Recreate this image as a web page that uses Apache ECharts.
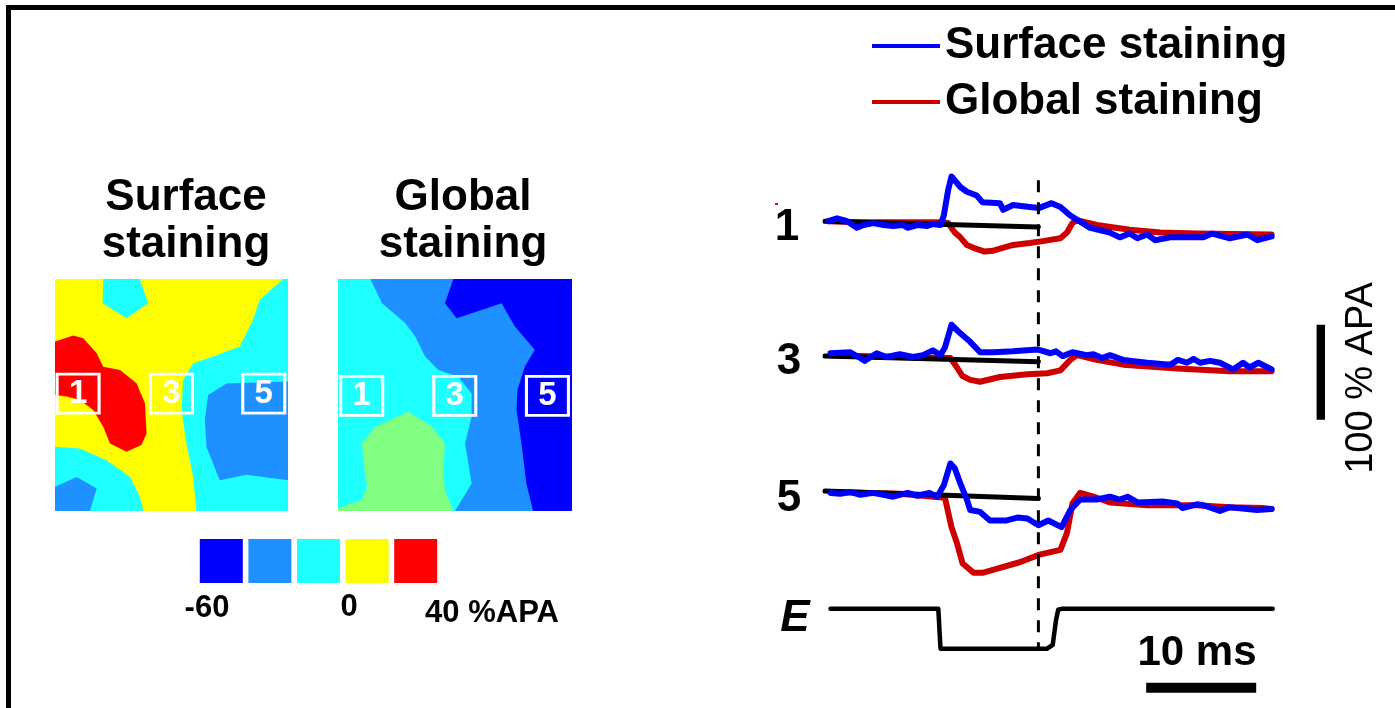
<!DOCTYPE html>
<html>
<head>
<meta charset="utf-8">
<script src="https://cdn.jsdelivr.net/npm/echarts@6/dist/echarts.min.js"></script>
<style>
html, body { margin: 0; padding: 0; background: #fff; }
#chart { width: 1395px; height: 708px; }
</style>
</head>
<body>
<div id="chart"></div>
<script>
// ---- data ----
// traces: [time (ms), %APA relative to own baseline]
const surface1 = [[0.3,0],[1.1,3],[2.0,0],[2.9,-7],[3.5,-4],[4.4,-2],[5.3,-4],[6.2,-5],[7.1,-4],[7.5,-7],[8.4,-4],[9.3,-5],[9.8,-3],[10.5,-4],[10.8,6],[11.2,33],[11.5,47],[12.3,36],[12.9,31],[13.8,27],[14.3,20],[15.9,19],[16.2,12],[17.1,17],[18.6,15],[19.5,14],[20.6,19],[21.4,15],[22.3,6],[24.1,-7],[25.9,-12],[26.8,-17],[27.7,-13],[28.4,-18],[29.3,-14],[30.0,-20],[31.4,-17],[34.4,-17],[35.2,-13],[36.8,-18],[38.4,-14],[39.3,-20],[40.6,-16]];
const global1 = [[0.3,0],[3.2,-1],[6.8,-1],[10.5,-1],[11.2,-2],[11.8,-12],[12.3,-17],[12.9,-25],[13.5,-28],[14.5,-32],[15.3,-31],[17.1,-25],[18.6,-23],[19.8,-21],[21.4,-18],[22.0,-12],[22.5,-2],[22.9,1],[24.7,-4],[27.7,-9],[30.5,-12],[33.8,-13],[40.6,-14]];
const surface3 = [[0.5,3],[2.3,4],[3.2,-2],[3.6,-5],[4.7,3],[5.6,-1],[6.8,2],[8.0,-1],[8.9,1],[9.8,6],[10.5,1],[10.9,9],[11.5,33],[12.3,24],[13.2,15],[14.1,4],[15.3,4],[17.1,5],[19.3,7],[20.5,3],[21.0,5],[21.6,0],[22.5,4],[23.8,1],[24.4,2],[25.2,-2],[25.9,1],[27.1,-4],[29.3,-7],[31.4,-9],[32.1,-4],[32.9,-7],[33.5,-3],[34.1,-7],[35.0,-5],[35.9,-7],[37.1,-14],[38.0,-7],[38.6,-12],[39.4,-7],[40.6,-14]];
const global3 = [[0.5,1],[6.8,-1],[11.4,-2],[12.0,-12],[12.5,-21],[13.2,-25],[14.1,-27],[15.9,-22],[18.4,-19],[20.2,-18],[21.4,-15],[22.3,-4],[22.9,1],[24.7,-4],[27.1,-9],[32.0,-13],[36.8,-16],[40.6,-16]];
const surface5 = [[0.5,-2],[1.4,-3],[2.3,-1],[3.2,-4],[4.4,-2],[6.2,-6],[7.5,-2],[8.4,-5],[9.5,-2],[10.2,-6],[10.8,6],[11.4,29],[11.8,24],[12.3,8],[12.9,-9],[13.2,-20],[14.1,-22],[15.0,-31],[16.5,-31],[17.5,-28],[18.4,-29],[19.4,-36],[20.3,-31],[21.5,-38],[22.3,-20],[23.2,-9],[24.7,-9],[25.9,-6],[26.8,-9],[27.5,-6],[28.4,-12],[30.7,-11],[32.0,-13],[32.5,-18],[33.8,-14],[34.4,-15],[35.9,-21],[36.8,-17],[39.3,-20],[40.6,-19]];
const global5 = [[0.5,-1],[6.8,-3],[10.9,-7],[11.5,-38],[12.0,-55],[12.5,-76],[13.5,-86],[14.4,-86],[15.9,-81],[17.7,-75],[19.5,-67],[21.4,-62],[22.0,-44],[22.5,-13],[23.2,-2],[24.4,-6],[25.9,-12],[29.3,-15],[33.8,-15],[36.8,-17],[39.8,-18],[40.6,-19]];
const stimulus = [[0.5,0],[10.3,0],[10.5,-42],[20.2,-42],[20.7,-38],[21.0,-12],[21.2,-1],[21.5,0],[40.7,0]];

const traceNames = ['1', '3', '5'];
const traceOffsets = [-96, -238, -380];
const baselineTimes = [0, 19.4];
const baselineEnds = [-6, -6, -8];
const stimulusOffset = -504;
const markerTime = 19.4;
const markerSpan = [-53, -547];
const timeBar = [29.2, 39.2];
const timeBarLevel = -587;
const ampBarTime = 45.1;
const ampBar = [-205, -305];

// maps: polygons in map units (0..100, y down), painted in order
const levelColors = ['#0000ff', '#1e90ff', '#1effff', '#ffff00', '#ff0000', '#80ff80'];
const surfaceLevels = [3, 2, 2, 2, 1, 1, 4];
const surfaceShapes = [
  [[0,0],[100,0],[100,100],[0,100]],
  [[20.7,0],[20.4,10.4],[30.7,16.9],[40,10.4],[36.4,0]],
  [[97.9,0],[100,0],[100,100],[60.7,100],[59.3,85.3],[56.4,70.9],[54.3,56.5],[55,43.5],[59.3,36.3],[67.9,33.4],[79.3,29.1],[85,17.6],[87.9,8.9]],
  [[0,72.3],[10.7,73.1],[22.1,78.1],[32.1,85.2],[36.4,93.9],[37.9,100],[0,100]],
  [[0,89.6],[9.3,85.3],[17.9,90.3],[15,100],[0,100]],
  [[100,44.2],[73.6,45],[65.7,50],[64.3,60.8],[65,72.3],[70.7,86.7],[82.1,84.4],[100,86.7]],
  [[0,26.9],[7.9,24.4],[12.1,25.5],[17.9,32],[20.7,37.8],[27.9,39.2],[35,44.9],[38.6,53.6],[39.3,66.6],[37.1,71.6],[30.7,74.5],[23.6,70.9],[20.7,63.7],[16.4,56.5],[10.7,52.2],[5,50.7],[0,50]]
];
const globalLevels = [2, 1, 0, 5];
const globalShapes = [
  [[0,0],[100,0],[100,100],[0,100]],
  [[13.8,0],[18.8,10.4],[28.7,19],[33,24.8],[37.2,33.4],[42.9,39.2],[51.4,42.1],[57.1,49.3],[57.1,59.4],[54.3,70.9],[57.1,88.2],[50,100],[100,100],[100,0]],
  [[49.3,0],[45.7,10.4],[50.7,16.9],[69.9,10.4],[75.6,20.5],[84.1,30.5],[79.8,37.8],[76.7,47.8],[76.3,56.5],[78.4,70.9],[80.5,88.2],[83.4,100],[100,100],[100,0]],
  [[0,100],[0,98.6],[10.2,95.4],[12.4,89.6],[11,79.5],[10.2,70.9],[15.9,63.7],[30.1,57.2],[40.1,63.7],[45.7,70.9],[45,82.4],[45.7,91.1],[49.3,100]]
];
const surfaceSites = [[9.9,49.4,'1'],[50,49.4,'3'],[89.6,49.4,'5']];
const globalSites = [[10.1,50.4,'1'],[49.9,50.4,'3'],[89.5,50.4,'5']];

const scaleLevels = ['-60', '', '0', '', '40'];
const scaleColorIndex = [0, 1, 2, 3, 4];

const font = '"Liberation Sans", Arial, sans-serif';
const blue = '#0000ff';
const red = '#cc0000';

const chart = echarts.init(document.getElementById('chart'));

function shift(arr, off) {
  return arr.map(p => [p[0], p[1] + off]);
}

function mapSeries(idx, shapes, levels) {
  return {
    type: 'custom',
    xAxisIndex: idx, yAxisIndex: idx,
    silent: true,
    data: shapes.map((s, i) => [s[0][0], s[0][1], levels[i]]),
    renderItem: function (params, api) {
      const pts = shapes[params.dataIndex].map(p => api.coord(p));
      return {
        type: 'polygon',
        shape: { points: pts },
        style: { fill: levelColors[levels[params.dataIndex]], stroke: null }
      };
    }
  };
}

function siteSeries(idx, sites) {
  return {
    type: 'scatter',
    xAxisIndex: idx, yAxisIndex: idx,
    silent: true,
    symbol: 'rect',
    symbolSize: [42, 39],
    itemStyle: { color: 'rgba(0,0,0,0)', borderColor: '#fff', borderWidth: 3, opacity: 1 },
    label: {
      show: true, position: 'inside', formatter: p => p.data[2],
      color: '#fff', fontSize: 33, fontWeight: 'bold', fontFamily: font
    },
    data: sites
  };
}

const series = [];
traceNames.forEach((n, i) => {
  series.push({
    name: 'Global staining', type: 'line', showSymbol: false, symbol: 'none', clip: false,
    itemStyle: { color: red }, lineStyle: { color: red, width: 6, cap: 'round', join: 'round' },
    data: shift([global1, global3, global5][i], traceOffsets[i]), z: 2
  });
  series.push({
    type: 'line', showSymbol: false, symbol: 'none', clip: false,
    lineStyle: { color: '#000', width: 5, cap: 'round' },
    data: [[baselineTimes[0], traceOffsets[i]], [baselineTimes[1], traceOffsets[i] + baselineEnds[i]]], z: 3
  });
  series.push({
    name: 'Surface staining', type: 'line', showSymbol: false, symbol: 'none', clip: false,
    itemStyle: { color: blue }, lineStyle: { color: blue, width: 6, cap: 'round', join: 'round' },
    data: shift([surface1, surface3, surface5][i], traceOffsets[i]), z: 4
  });
});
series.push({
  type: 'line', showSymbol: false, symbol: 'none', clip: false,
  lineStyle: { color: '#000', width: 4.5, cap: 'round', join: 'round' },
  data: shift(stimulus, stimulusOffset), z: 3
});
series.push({
  type: 'line', showSymbol: false, symbol: 'none', clip: false,
  lineStyle: { color: '#000', width: 3, type: [12, 10] },
  data: [[markerTime, markerSpan[0]], [markerTime, markerSpan[1]]], z: 5
});
series.push({
  type: 'line', showSymbol: false, symbol: 'none', clip: false,
  lineStyle: { color: '#000', width: 10 },
  data: [[timeBar[0], timeBarLevel], [timeBar[1], timeBarLevel]]
});
series.push({
  type: 'line', showSymbol: false, symbol: 'none', clip: false,
  lineStyle: { color: '#000', width: 9 },
  data: [[ampBarTime, ampBar[0]], [ampBarTime, ampBar[1]]]
});
series.push(mapSeries(1, surfaceShapes, surfaceLevels));
series.push(siteSeries(1, surfaceSites));
series.push(mapSeries(2, globalShapes, globalLevels));
series.push(siteSeries(2, globalSites));
series.push({
  type: 'scatter', xAxisIndex: 3, yAxisIndex: 3, silent: true,
  symbol: 'rect', symbolSize: [43, 44],
  itemStyle: { color: p => levelColors[scaleColorIndex[p.dataIndex]], opacity: 1 },
  data: scaleColorIndex.map((c, i) => [i, 0.5])
});

chart.setOption({
  animation: false,
  backgroundColor: '#fff',
  grid: [
    { left: 825, top: 130, width: 495, height: 570 },
    { left: 55, top: 279, width: 233, height: 232 },
    { left: 338, top: 279, width: 234, height: 232 },
    { left: 197, top: 539, width: 243, height: 44 }
  ],
  xAxis: [
    { type: 'value', gridIndex: 0, min: 0, max: 45, show: false },
    { type: 'value', gridIndex: 1, min: 0, max: 100, show: false },
    { type: 'value', gridIndex: 2, min: 0, max: 100, show: false },
    { type: 'category', gridIndex: 3, data: scaleLevels, show: false }
  ],
  yAxis: [
    { type: 'value', gridIndex: 0, min: -600, max: 0, show: false },
    { type: 'value', gridIndex: 1, min: 0, max: 100, inverse: true, show: false },
    { type: 'value', gridIndex: 2, min: 0, max: 100, inverse: true, show: false },
    { type: 'value', gridIndex: 3, min: 0, max: 1, show: false }
  ],
  legend: {
    orient: 'vertical', left: 867, top: 18,
    itemWidth: 68, itemHeight: 4, itemGap: 10, icon: 'rect',
    textStyle: { fontSize: 44, fontWeight: 'bold', color: '#000', fontFamily: font, lineHeight: 46 },
    data: ['Surface staining', 'Global staining']
  },
  graphic: [
    { type: 'rect', silent: true, shape: { x: 8.5, y: 7.5, width: 1420, height: 730 },
      style: { fill: 'none', stroke: '#000', lineWidth: 5 } },
    { type: 'text', x: 186, y: 221, style: { text: 'Surface\nstaining', font: 'bold 44px ' + font, lineHeight: 47, align: 'center', verticalAlign: 'middle', fill: '#000' } },
    { type: 'text', x: 463, y: 221, style: { text: 'Global\nstaining', font: 'bold 44px ' + font, lineHeight: 47, align: 'center', verticalAlign: 'middle', fill: '#000' } },
    { type: 'text', x: 207, y: 608, style: { text: '-60', font: 'bold 31px ' + font, align: 'center', verticalAlign: 'middle', fill: '#000' } },
    { type: 'text', x: 349, y: 607, style: { text: '0', font: 'bold 31px ' + font, align: 'center', verticalAlign: 'middle', fill: '#000' } },
    { type: 'text', x: 492, y: 613, style: { text: '40 %APA', font: 'bold 31px ' + font, align: 'center', verticalAlign: 'middle', fill: '#000' } },
    { type: 'text', x: 787, y: 228, style: { text: traceNames[0], font: 'bold 44px ' + font, align: 'center', verticalAlign: 'middle', fill: '#000' } },
    { type: 'text', x: 789, y: 362, style: { text: traceNames[1], font: 'bold 44px ' + font, align: 'center', verticalAlign: 'middle', fill: '#000' } },
    { type: 'text', x: 789, y: 499, style: { text: traceNames[2], font: 'bold 44px ' + font, align: 'center', verticalAlign: 'middle', fill: '#000' } },
    { type: 'text', x: 795, y: 619, style: { text: 'E', font: 'italic bold 44px ' + font, align: 'center', verticalAlign: 'middle', fill: '#000' } },
    { type: 'text', x: 1197, y: 653, style: { text: '10 ms', font: 'bold 42px ' + font, align: 'center', verticalAlign: 'middle', fill: '#000' } },
    { type: 'text', x: 1362, y: 378, rotation: Math.PI / 2, style: { text: '100 % APA', font: '38px ' + font, align: 'center', verticalAlign: 'middle', fill: '#000' } },
    { type: 'rect', silent: true, shape: { x: 775, y: 203, width: 3, height: 2 }, style: { fill: '#ff0000' } }
  ],
  series: series
});
</script>
</body>
</html>
